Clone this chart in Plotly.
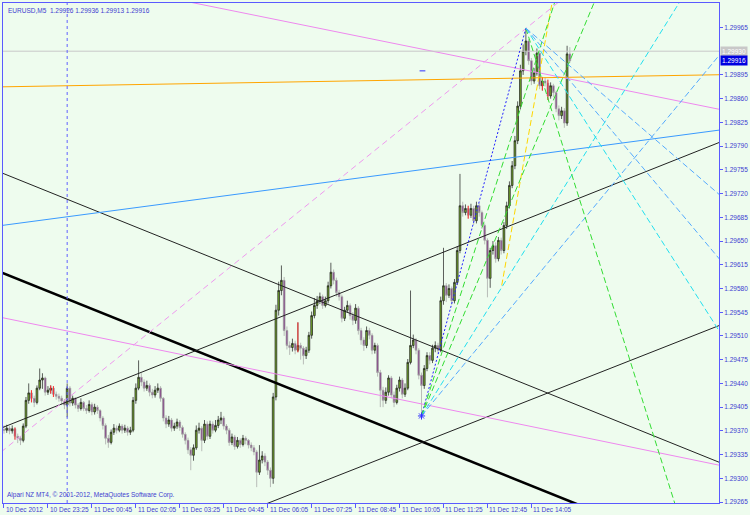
import plotly.graph_objects as go

# ---------------- data (prices stored as 1e-5 offsets above 1.29) ----------------
BASE = 1.29
PIP = 1e-5

open_pts = [372,371,374,370,373,362,359,356,377,415,426,418,412,433,445,448,427,430,433,424,
            421,418,414,408,433,411,418,408,403,412,403,400,409,398,405,400,389,378,359,353,
            368,374,371,377,371,374,368,371,415,433,449,442,433,437,427,423,430,433,418,389,
            380,386,374,377,383,375,365,356,342,334,345,371,374,356,380,362,380,371,378,386,
            389,377,371,353,361,347,356,350,359,356,349,345,339,309,327,333,324,312,300,420,
            548,577,592,518,496,493,499,489,496,492,481,489,511,540,555,562,568,555,562,584,
            604,592,574,568,536,548,555,540,533,551,518,504,496,518,511,489,496,456,430,415,
            427,448,423,412,433,445,424,433,471,496,504,489,452,437,462,481,474,492,496,489,
            562,584,570,580,562,589,636,702,692,698,688,698,680,702,692,673,651,595,636,643,
            624,651,636,673,702,732,761,798,849,901,930,945,916,886,898,927,879,886,883,864,
            879,869,845,835,842,824,926]
high_pts = [378,379,377,378,375,366,362,381,420,440,430,422,437,462,455,450,436,437,436,428,
            425,422,417,440,436,422,420,411,418,414,408,415,412,410,408,402,392,381,364,372,
            380,378,381,380,379,377,376,420,440,474,455,446,444,440,432,436,440,436,420,393,
            392,389,382,388,386,378,368,360,346,350,378,382,377,386,384,385,384,386,392,398,
            392,380,374,366,364,361,359,364,362,358,353,349,342,349,340,337,327,316,426,556,
            590,614,597,524,502,506,503,530,500,495,494,516,546,566,569,574,571,568,590,618,
            608,596,578,571,553,562,558,545,557,554,522,508,524,522,514,500,499,460,435,434,
            452,451,428,438,450,448,440,476,577,512,507,492,456,467,486,486,497,502,500,568,
            640,588,586,583,594,642,749,708,704,702,705,702,708,706,695,676,654,640,650,648,
            656,655,678,708,738,768,805,856,910,940,964,948,920,905,934,930,892,891,888,884,
            882,872,850,848,846,938,936]
low_pts = [366,367,365,366,357,352,349,353,374,410,412,405,409,430,432,422,423,425,420,416,
           413,408,402,390,406,407,403,398,400,399,395,397,393,394,395,384,372,350,345,350,
           364,366,368,366,367,363,364,368,410,430,436,428,429,421,418,419,426,413,384,374,
           376,369,370,373,370,360,350,336,312,326,342,366,340,352,357,358,366,368,374,380,
           372,365,348,349,342,344,345,347,350,344,340,334,287,305,322,318,305,287,292,415,
           540,570,510,490,482,487,483,486,475,468,476,485,506,536,550,557,550,552,558,580,
           586,568,562,530,532,544,534,526,528,512,497,488,492,505,483,484,450,405,405,410,
           422,418,405,409,428,418,420,430,468,492,483,446,393,432,458,468,470,486,484,486,
           556,560,566,556,558,585,632,686,688,683,684,674,676,686,668,645,567,581,630,618,
           620,630,632,668,698,728,756,793,844,895,924,910,880,882,894,874,872,878,858,860,
           862,840,828,830,817,820,913]
close_pts = [371,374,370,373,362,359,356,377,415,426,418,412,433,445,448,427,430,433,424,421,
             418,414,408,433,411,418,408,403,412,403,400,409,398,405,400,389,378,359,353,368,
             374,371,377,371,374,368,371,415,433,449,442,433,437,427,423,430,433,418,389,380,
             386,374,377,383,375,365,356,342,334,345,371,374,356,380,362,380,371,378,386,389,
             377,371,353,361,347,356,350,359,356,349,345,339,309,327,333,324,312,300,420,548,
             577,592,518,496,493,499,489,496,492,481,489,511,540,555,562,568,555,562,584,604,
             592,574,568,536,548,555,540,533,551,518,504,496,518,511,489,496,456,430,415,427,
             448,423,412,433,445,424,433,471,496,504,489,452,437,462,481,474,492,496,489,562,
             584,570,580,562,589,636,702,692,698,688,698,680,702,692,673,651,595,636,643,624,
             651,636,673,702,732,761,798,849,901,930,945,916,886,898,927,879,886,883,864,879,
             869,845,835,842,824,926,916]
# bars drawn in red (near-doji bars)
doji_bars = [4, 10, 17, 18, 107, 169, 196, 198]

time_tick_bars = [0, 16, 32, 48, 64, 80, 96, 112, 128, 144, 160, 176, 192]
time_tick_text = ["10 Dec 2012", "10 Dec 23:25", "11 Dec 00:45", "11 Dec 02:05", "11 Dec 03:25",
                  "11 Dec 04:45", "11 Dec 06:05", "11 Dec 07:25", "11 Dec 08:45", "11 Dec 10:05",
                  "11 Dec 11:25", "11 Dec 12:45", "11 Dec 14:05"]
price_ticks = [1.29265, 1.29300, 1.29335, 1.29370, 1.29405, 1.29440, 1.29475, 1.29510, 1.29545,
               1.29580, 1.29615, 1.29650, 1.29685, 1.29720, 1.29755, 1.29790, 1.29825, 1.29860,
               1.29895, 1.29965]

bid_price = 1.29916
hline_price = 1.29930
separator_bar = 23

# trend-line anchors: (bar1, pts1, bar2, pts2)
channel_thick = (-1.1, 604, 215, 251.5)
channel_desc = (-1.1, 751, 262, 321)
channel_asc_low = (94, 260, 262, 528)
channel_asc_high = (-1.1, 374, 262, 798)
pink_low = (-1.1, 537.4, 262, 318)
pink_high = (65.7, 1004, 262, 843)
pink_dash = (-1.1, 338.7, 203, 1006)
orange_line = (-1.1, 877.4, 262, 895.4)
blue_line = (-1.1, 672.8, 262, 814.5)
yellow_line = (181.2, 584.5, 199.9, 1010)
fan_low = (152, 392)
fan_high = (190, 964)
fan_up_green_a = (201.1, 1010)
fan_up_green_b = (215.7, 1010)
fan_up_cyan = (246.2, 1004)
fan_up_blue = (262, 932)
fan_dn_green = (245.6, 245)
fan_dn_cyan = (262, 507)
fan_dn_blue = (262, 616)
fan_dn_blue2 = (262, 713)
blue_tick = (151.3, 901, 153.4, 901)

# ---------------- figure ----------------
def P(v):
    return BASE + v * PIP

BG = "#eefcee"
AXC = "#5a5aff"
TXT = "#4040d0"
FONT = "Liberation Sans"

fig = go.Figure()
bars = list(range(len(close_pts)))
fig.add_trace(go.Candlestick(
    x=bars,
    open=[P(v) for v in open_pts], high=[P(v) for v in high_pts],
    low=[P(v) for v in low_pts], close=[P(v) for v in close_pts],
    increasing=dict(line=dict(color="#1a1a1a", width=0.7), fillcolor="#74a82c"),
    decreasing=dict(line=dict(color="#a0a0a0", width=0.7), fillcolor="#86488a"),
    whiskerwidth=0, hoverinfo="skip", showlegend=False))

# red near-doji bars
rx, ry = [], []
for b in doji_bars:
    rx += [b, b, None]
    ry += [P(low_pts[b]), P(high_pts[b]), None]
fig.add_trace(go.Scatter(x=rx, y=ry, mode="lines", line=dict(color="#ff3030", width=1),
                         hoverinfo="skip", showlegend=False))

def seg(a, color, width=1, dash="solid"):
    fig.add_trace(go.Scatter(x=[a[0], a[2]], y=[P(a[1]), P(a[3])], mode="lines",
                             line=dict(color=color, width=width, dash=dash),
                             hoverinfo="skip", showlegend=False))

seg(channel_thick, "#000000", 2.6)
seg(channel_desc, "#222222", 1)
seg(channel_asc_low, "#222222", 1)
seg(channel_asc_high, "#222222", 1)
seg(pink_low, "#ee88ee", 1)
seg(pink_high, "#ee88ee", 1)
seg(pink_dash, "#ee99ee", 1, "6px,4px")
seg(orange_line, "#ffa500", 1)
seg(blue_line, "#3a9aff", 1)
seg((-1.1, hline_price / PIP - BASE / PIP, 262, hline_price / PIP - BASE / PIP), "#c8c8c8", 1)
seg(yellow_line, "#ffd700", 1, "6px,3px")

L = fan_low
H = fan_high
seg((L[0], L[1], H[0], H[1]), "#2020ff", 1, "2px,2px")
for end, col in [(fan_up_green_a, "#33dd33"), (fan_up_green_b, "#33dd33"),
                 (fan_up_cyan, "#22e0ee"), (fan_up_blue, "#55aaff")]:
    seg((L[0], L[1], end[0], end[1]), col, 1, "6px,3px")
for end, col in [(fan_dn_green, "#33dd33"), (fan_dn_cyan, "#22e0ee"),
                 (fan_dn_blue, "#55aaff"), (fan_dn_blue2, "#55aaff")]:
    seg((H[0], H[1], end[0], end[1]), col, 1, "6px,3px")
seg(blue_tick, "#3030ff", 1)
fig.add_trace(go.Scatter(x=[L[0]], y=[P(L[1])], mode="markers",
                         marker=dict(symbol="asterisk-open", size=6, color="#3030ff",
                                     line=dict(color="#3030ff", width=1)),
                         hoverinfo="skip", showlegend=False))

fig.add_vline(x=separator_bar, line=dict(color="#6060ff", width=1, dash="dot"))

x_lo, x_hi = -0.36, 260.3
fig.update_layout(
    width=750, height=515,
    margin=dict(l=2, r=26, t=2, b=12, pad=0),
    paper_bgcolor=BG, plot_bgcolor=BG,
    font=dict(family=FONT, size=6.5, color=TXT),
    showlegend=False, boxgap=0.1,
    xaxis=dict(range=[x_lo, x_hi], rangeslider=dict(visible=False), showgrid=False,
               zeroline=False, showline=True, linecolor=AXC, linewidth=1, mirror=True,
               tickmode="array", tickvals=time_tick_bars, showticklabels=False,
               ticks="outside", ticklen=4, tickcolor=AXC),
    yaxis=dict(range=[P(263.6), P(1001.1)], side="right", showgrid=False, zeroline=False,
               showline=True, linecolor=AXC, linewidth=1, mirror=True,
               tickmode="array", tickvals=price_ticks,
               ticktext=[f"{p:.5f}" for p in price_ticks],
               ticks="outside", ticklen=3, tickcolor=AXC,
               tickfont=dict(family=FONT, size=6.5, color=TXT)),
)

for b, t in zip(time_tick_bars, time_tick_text):
    fig.add_annotation(x=b, y=0, xref="x", yref="paper", text=t, showarrow=False,
                       xanchor="left", yanchor="top", xshift=0, yshift=-1,
                       font=dict(family=FONT, size=6.5, color=TXT))

fig.add_annotation(x=0, y=1, xref="paper", yref="paper", xanchor="left", yanchor="top",
                   xshift=3, yshift=-2, showarrow=False,
                   text="EURUSD,M5  1.29926 1.29936 1.29913 1.29916",
                   font=dict(family=FONT, size=6.5, color=TXT))
fig.add_annotation(x=0, y=0, xref="paper", yref="paper", xanchor="left", yanchor="bottom",
                   xshift=2, yshift=2, showarrow=False,
                   text="Alpari NZ MT4, © 2001-2012, MetaQuotes Software Corp.",
                   font=dict(family=FONT, size=6.5, color=TXT))

fig.add_annotation(x=1, y=hline_price, xref="paper", yref="y", xanchor="left", yanchor="middle",
                   xshift=1, showarrow=False, text=f"{hline_price:.5f}", bgcolor="#c8c8c8",
                   borderpad=1, font=dict(family=FONT, size=6.5, color="#ffffff"))
fig.add_annotation(x=1, y=bid_price, xref="paper", yref="y", xanchor="left", yanchor="middle",
                   xshift=1, showarrow=False, text=f"{bid_price:.5f}", bgcolor="#0000e0",
                   borderpad=1, font=dict(family=FONT, size=6.5, color="#ffffff"))

fig.write_html("out.html", config={"displayModeBar": False},
               post_script="document.body.style.margin='0px';document.body.style.overflow='hidden';")
